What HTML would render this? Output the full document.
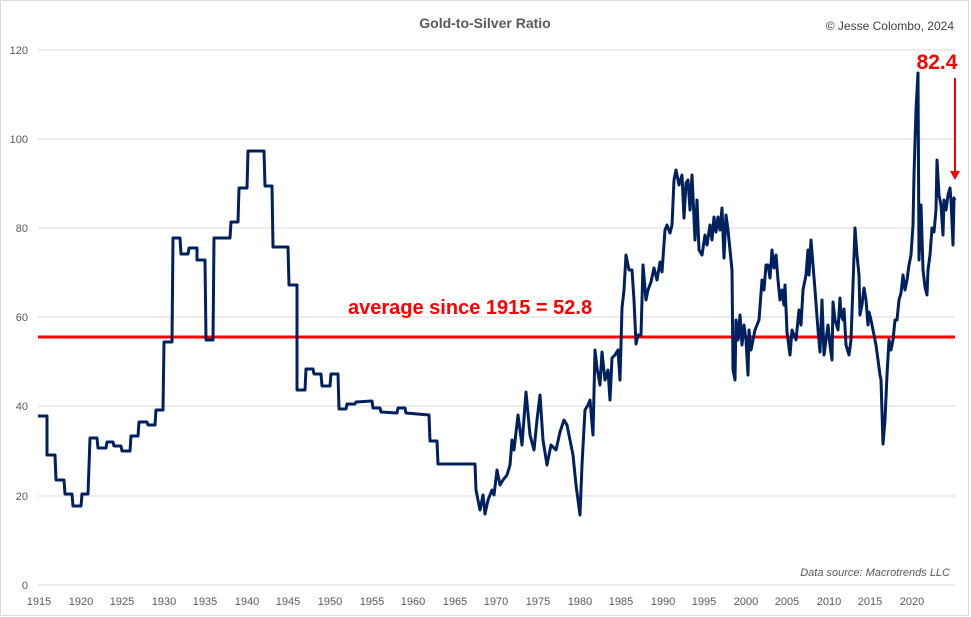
<!DOCTYPE html>
<html><head><style>
body{margin:0;background:#fff;}
svg{display:block;font-family:"Liberation Sans",sans-serif;}
</style></head><body>
<svg width="971" height="617" viewBox="0 0 971 617">
<rect x="0.5" y="0.5" width="968" height="615" fill="#fff" stroke="#d9d9d9"/>
<g stroke="#d9d9d9" stroke-width="1">
<line x1="38" x2="955" y1="50" y2="50"/><line x1="38" x2="955" y1="139" y2="139"/>
<line x1="38" x2="955" y1="228" y2="228"/><line x1="38" x2="955" y1="317" y2="317"/>
<line x1="38" x2="955" y1="406" y2="406"/><line x1="38" x2="955" y1="496" y2="496"/>
<line x1="38" x2="955" y1="585" y2="585"/>
</g>
<g font-size="11" fill="#595959" text-anchor="end">
<text x="28" y="54">120</text><text x="28" y="143">100</text><text x="28" y="232">80</text>
<text x="28" y="321">60</text><text x="28" y="410">40</text><text x="28" y="500">20</text><text x="28" y="589">0</text>
</g>
<g font-size="11" fill="#595959" text-anchor="middle">
<text x="39" y="605">1915</text><text x="81" y="605">1920</text><text x="122" y="605">1925</text><text x="164" y="605">1930</text><text x="205" y="605">1935</text><text x="247" y="605">1940</text><text x="288" y="605">1945</text><text x="330" y="605">1950</text><text x="372" y="605">1955</text><text x="413" y="605">1960</text><text x="455" y="605">1965</text><text x="496" y="605">1970</text><text x="538" y="605">1975</text><text x="580" y="605">1980</text><text x="621" y="605">1985</text><text x="663" y="605">1990</text><text x="704" y="605">1995</text><text x="746" y="605">2000</text><text x="787" y="605">2005</text><text x="829" y="605">2010</text><text x="870" y="605">2015</text><text x="912" y="605">2020</text>
</g>
<text x="485" y="28" font-size="14" font-weight="bold" fill="#595959" text-anchor="middle">Gold-to-Silver Ratio</text>
<text x="954" y="30" font-size="12" fill="#404040" text-anchor="end">© Jesse Colombo, 2024</text>
<text x="950" y="576" font-size="11" font-style="italic" fill="#595959" text-anchor="end">Data source: Macrotrends LLC</text>
<line x1="38" x2="955" y1="337" y2="337" stroke="#ff0000" stroke-width="3"/>
<polyline fill="none" stroke="#002060" stroke-width="3" stroke-linejoin="round" points="38,416 47,416 47,455 55,455 56,480 64,480 65,494 72,494 73,506 81,506 82,494 88,494 90,438 97,438 98,448 106,448 107,442 113,442 114,446 121,446 122,451 130,451 131,436 138,436 139,422 147,422 148,425 155,425 156,410 163,410 164,342 172,342 173,238 180,238 181,254 188,254 189,248 197,248 197,260 205,260 206,340 213,340 214,238 230,238 231,222 238,222 239,188 247,188 248,151 264,151 265,186 272,186 273,247 288,247 289,285 297,285 297,390 305,390 306,369 313,369 314,374 321,374 322,386 330,386 331,374 338,374 339,409 346,409 347,404 355,404 356,402 372,401 373,408 380,408 381,412 397,413 398,408 405,408 406,413 429,415 430,441 437,441 438,464 475,464 476,490 480,510 483,495 485,514 488,500 492,490 494,495 497,470 500,485 503,480 507,475 510,465 512,440 514,450 518,415 522,445 526,392 530,435 534,450 537,420 540,395 543,440 547,465 551,445 556,450 560,432 564,420 567,425 570,440 573,455 576,485 580,515 582,465 585,410 588,405 590,400 593,435 595,350 597,368 600,385 602,352 605,380 608,370 610,400 612,358 615,355 618,350 620,380 622,308 624,290 626,255 629,270 632,270 634,300 636,344 638,335 641,335 643,265 646,300 648,290 651,282 654,268 657,280 660,262 662,272 665,230 667,225 670,233 672,225 674,180 676,170 679,185 682,175 684,218 686,183 688,180 690,210 692,175 695,240 697,200 699,250 702,255 705,235 707,245 710,225 712,240 714,217 716,232 718,217 720,230 722,208 724,258 726,215 728,230 730,250 732,270 733,370 735,380 736,320 738,340 740,315 742,345 744,325 746,340 748,375 749,330 751,350 753,340 755,330 757,325 759,320 762,280 764,290 766,265 768,265 770,278 772,250 774,268 776,255 778,280 780,300 782,290 784,305 785,285 787,332 790,355 792,330 794,335 796,340 799,310 801,325 803,290 806,275 808,250 809,275 811,240 813,265 815,290 818,330 820,352 822,300 824,355 826,340 828,325 830,345 832,360 833,302 835,320 838,330 840,298 841,315 843,320 844,309 846,345 849,355 851,340 853,285 855,228 857,255 859,275 860,315 862,305 864,288 866,300 868,325 869,312 871,320 873,330 876,345 878,360 880,375 881,380 883,444 885,420 887,375 889,340 891,350 893,340 895,320 897,320 899,300 901,293 903,275 905,290 907,280 909,265 911,255 913,225 914,175 916,110 918,73 919,260 921,205 923,270 925,287 927,295 928,270 930,255 932,228 934,232 936,210 937,160 939,195 941,205 943,235 944,200 946,210 948,195 950,188 951,200 953,245 954,198 955,200"/>
<text x="348" y="314" font-size="20" font-weight="bold" fill="#ff0000">average since 1915 = 52.8</text>
<text x="937" y="69" font-size="21" font-weight="bold" fill="#ff0000" text-anchor="middle">82.4</text>
<line x1="955" y1="78" x2="955" y2="172" stroke="#ff0000" stroke-width="2"/>
<polygon points="950,171 960,171 955,180" fill="#ff0000"/>
</svg>
</body></html>
